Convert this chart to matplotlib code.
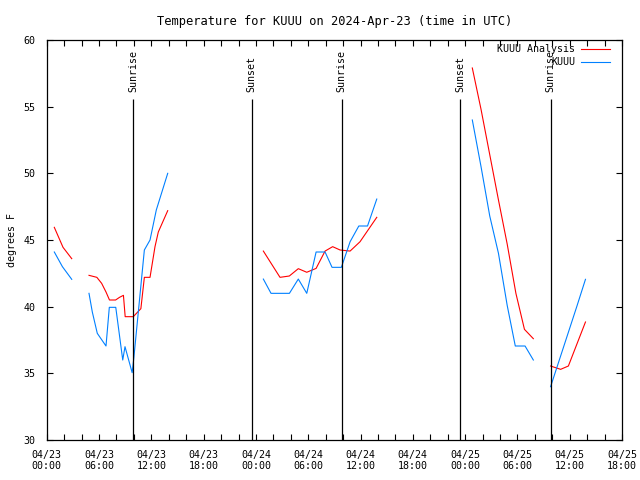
import numpy as np
import matplotlib
matplotlib.use('Agg')
import matplotlib.pyplot as plt
import matplotlib.dates as mdates
from datetime import datetime

start = datetime(2024, 4, 23)
span_hours = 66

# hours after 2024-04-23 00:00 UTC, nan marks a gap in the record
ana_hours = [0.87, 1.87, 2.87, np.nan,
             4.85, 5.75, 6.3, 6.8, 7.2, 7.9, 8.35, 8.8, 9.0, 9.93, 10.8, 11.2,
             11.85, 12.42, 12.8, 13.88, np.nan,
             24.85, 26.76, 27.83, 28.86, 29.83, 30.9, 31.93, 32.8, 33.65, 34.8,
             35.94, 37.86, np.nan,
             48.82, 49.82, 50.82, 51.82, 52.82, 53.82, 54.8, 55.82, np.nan,
             57.8, 58.95, 59.84, 61.8]
ana_temp = [45.95, 44.45, 43.6, np.nan,
            42.35, 42.2, 41.75, 41.1, 40.5, 40.5, 40.7, 40.85, 39.25, 39.25, 39.85, 42.2,
            42.2, 44.5, 45.6, 47.2, np.nan,
            44.17, 42.2, 42.3, 42.85, 42.58, 42.87, 44.17, 44.5, 44.25, 44.17,
            44.87, 46.7, np.nan,
            57.9, 54.8, 51.4, 48.0, 44.7, 41.0, 38.3, 37.6, np.nan,
            35.55, 35.3, 35.55, 38.85]

obs_hours = [0.87, 1.8, 2.87, np.nan,
             4.85, 5.23, 5.8, 6.8, 7.18, 7.92, 8.72, 8.98, 9.8, 10.0, 11.2, 11.85,
             12.57, 13.88, np.nan,
             24.85, 25.73, 27.84, 28.86, 29.83, 30.9, 31.93, 32.73, 33.8, 34.8,
             35.8, 36.8, 37.86, np.nan,
             48.82, 49.82, 50.82, 51.82, 52.82, 53.75, 54.87, 55.82, np.nan,
             57.8, 58.8, 59.8, 60.8, 61.8]
obs_temp = [44.1, 43.0, 42.05, np.nan,
            41.0, 39.6, 38.0, 37.05, 39.95, 39.95, 36.0, 37.0, 35.05, 36.2, 44.25, 45.0,
            47.25, 50.0, np.nan,
            42.07, 41.0, 41.0, 42.07, 41.0, 44.1, 44.1, 42.95, 42.95, 44.87,
            46.05, 46.05, 48.07, np.nan,
            54.0, 50.5, 46.8, 44.0, 40.1, 37.05, 37.05, 36.0, np.nan,
            34.0, 36.0, 38.0, 40.0, 42.05]

sun_hours = [9.95, 23.5, 33.85, 47.45, 57.8]
sun_labels = ['Sunrise', 'Sunset', 'Sunrise', 'Sunset', 'Sunrise']


def to_dates(hours):
    return mdates.date2num(start) + np.array(hours, dtype=float) / 24.0


plt.rcParams['font.family'] = ['DejaVu Sans Mono']
plt.rcParams['font.size'] = 7.2

fig = plt.figure(figsize=(6.4, 4.8), dpi=100)
ax = fig.add_axes([0.073, 0.0833, 0.899, 0.8334])

ax.plot(to_dates(ana_hours), ana_temp, color='#ff0000', lw=0.8)
ax.plot(to_dates(obs_hours), obs_temp, color='#0080ff', lw=0.8)

ax.vlines(to_dates(sun_hours), 30, 55.6, color='black', lw=0.9)
for t, lab in zip(to_dates(sun_hours), sun_labels):
    ax.text(t, 56.1, lab, rotation=90, ha='center', va='bottom')

ax.set_xlim(to_dates([0, span_hours]))
ax.set_ylim(30, 60)
ax.xaxis.set_major_locator(mdates.HourLocator(byhour=[0, 6, 12, 18]))
ax.xaxis.set_minor_locator(mdates.HourLocator(byhour=range(0, 24, 2)))
ax.xaxis.set_major_formatter(mdates.DateFormatter('%m/%d\n%H:%M'))
ax.set_yticks(range(30, 61, 5))
ax.tick_params(which='both', direction='in', top=True, right=True, width=0.8, length=4)
ax.tick_params(axis='x', pad=7)
ax.tick_params(axis='y', pad=8)
for s in ax.spines.values():
    s.set_linewidth(0.9)

ax.set_ylabel('degrees F', labelpad=5)
ax.set_title('Temperature for KUUU on 2024-Apr-23 (time in UTC)', pad=11)

# legend, gnuplot style: right-aligned text with sample line after it
for y, lab, col in [(0.9767, 'KUUU Analysis', '#ff0000'), (0.9442, 'KUUU', '#0080ff')]:
    ax.text(0.918, y, lab, transform=ax.transAxes, ha='right', va='center')
    ax.plot([0.929, 0.979], [y, y], transform=ax.transAxes, color=col, lw=0.8)

fig.savefig('out.png', dpi=100)
